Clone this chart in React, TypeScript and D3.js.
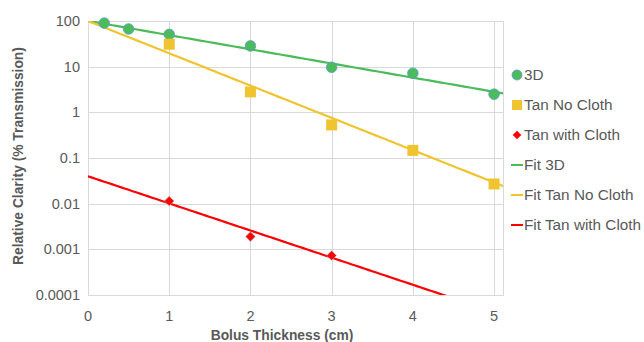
import { useEffect, useRef } from "react";
import * as d3 from "d3";

// measured points
const x3D = [0.2, 0.5, 1, 2, 3, 4, 5];
const y3D = [90, 67, 51, 28.5, 9.7, 7.2, 2.5];
const xNoCloth = [1, 2, 3, 4, 5];
const yNoCloth = [31, 2.8, 0.53, 0.147, 0.027];
const xCloth = [1, 2, 3];
const yCloth = [0.0114, 0.0019, 0.00073];

// exponential trendlines: log10(y) = intercept + slope * x
const fitNames = ["Fit 3D", "Fit Tan No Cloth", "Fit Tan with Cloth"];
const fitIntercepts = [2.0, 2.0, -1.4];
const fitSlopes = [-0.31, -0.707, -0.594];

const xTicks = [0, 1, 2, 3, 4, 5];
const yTicks = [0.0001, 0.001, 0.01, 0.1, 1, 10, 100];
const yTickLabels = ["0.0001", "0.001", "0.01", "0.1", "1", "10", "100"];

const GREEN = "#4cbb5a";
const YELLOW = "#f0c330";
const RED = "#ff0000";
const TEXT = "#595959";
const FONT = "'Liberation Sans', Arial, sans-serif";

export default function App() {
  const svgRef = useRef<SVGSVGElement>(null);

  useEffect(() => {
    if (!svgRef.current) return;
    const width = 644;
    const height = 342;
    const margin = { top: 21, right: 141, bottom: 47, left: 88 };

    const svg = d3.select(svgRef.current);
    svg.selectAll("*").remove();

    const x = d3
      .scaleLinear()
      .domain([0, 5.11])
      .range([margin.left, width - margin.right]);
    const y = d3
      .scaleLog()
      .domain([0.0001, 100])
      .range([height - margin.bottom, margin.top]);

    svg
      .append("defs")
      .append("clipPath")
      .attr("id", "plot-clip")
      .append("rect")
      .attr("x", margin.left)
      .attr("y", margin.top)
      .attr("width", x.range()[1] - margin.left)
      .attr("height", y.range()[0] - margin.top);

    // grid + plot border
    const grid = svg.append("g").attr("stroke", "#d9d9d9").attr("stroke-width", 1);
    grid
      .selectAll("line.h")
      .data(yTicks)
      .join("line")
      .attr("x1", margin.left)
      .attr("x2", x.range()[1])
      .attr("y1", (d) => Math.round(y(d)) + 0.5)
      .attr("y2", (d) => Math.round(y(d)) + 0.5);
    grid
      .selectAll("line.v")
      .data(xTicks)
      .join("line")
      .attr("x1", (d) => Math.round(x(d)) + 0.5)
      .attr("x2", (d) => Math.round(x(d)) + 0.5)
      .attr("y1", margin.top)
      .attr("y2", y.range()[0]);
    grid
      .append("rect")
      .attr("x", margin.left + 0.5)
      .attr("y", Math.round(margin.top) + 0.5)
      .attr("width", Math.round(x.range()[1] - margin.left))
      .attr("height", Math.round(y.range()[0] - margin.top))
      .attr("fill", "none");

    // tick labels
    svg
      .append("g")
      .selectAll("text")
      .data(yTicks)
      .join("text")
      .attr("x", 80)
      .attr("y", (d) => y(d))
      .attr("dy", "0.35em")
      .attr("text-anchor", "end")
      .attr("font-family", FONT)
      .attr("font-size", 14.5)
      .attr("fill", TEXT)
      .text((_, i) => yTickLabels[i]);
    svg
      .append("g")
      .selectAll("text")
      .data(xTicks)
      .join("text")
      .attr("x", (d) => x(d))
      .attr("y", 316)
      .attr("dy", "0.35em")
      .attr("text-anchor", "middle")
      .attr("font-family", FONT)
      .attr("font-size", 14.5)
      .attr("fill", TEXT)
      .text((d) => String(d));

    // axis titles
    svg
      .append("text")
      .attr("x", 282)
      .attr("y", 335)
      .attr("dy", "0.35em")
      .attr("text-anchor", "middle")
      .attr("font-family", FONT)
      .attr("font-weight", "bold")
      .attr("font-size", 13.8)
      .attr("fill", TEXT)
      .text("Bolus Thickness (cm)");
    svg
      .append("text")
      .attr("transform", "translate(18,156) rotate(-90)")
      .attr("dy", "0.35em")
      .attr("text-anchor", "middle")
      .attr("font-family", FONT)
      .attr("font-weight", "bold")
      .attr("font-size", 13.8)
      .attr("fill", TEXT)
      .text("Relative Clarity (% Transmission)");

    // fit lines (clipped to the plot area)
    const fitColors = [GREEN, YELLOW, RED];
    const fits = svg.append("g").attr("clip-path", "url(#plot-clip)");
    const xs = d3.range(0, 5.2, 0.05);
    fitNames.forEach((_, i) => {
      const fitLine = d3
        .line<number>()
        .x((v) => x(v))
        .y((v) => y(Math.pow(10, fitIntercepts[i] + fitSlopes[i] * v)));
      fits
        .append("path")
        .attr("d", fitLine(xs))
        .attr("fill", "none")
        .attr("stroke", fitColors[i])
        .attr("stroke-width", 2.2);
    });

    // markers
    const marks = svg.append("g");
    marks
      .selectAll("circle")
      .data(d3.zip(x3D, y3D))
      .join("circle")
      .attr("cx", (d) => x(d[0]))
      .attr("cy", (d) => y(d[1]))
      .attr("r", 5.3)
      .attr("fill", GREEN)
      .attr("stroke", "#5b9bd5")
      .attr("stroke-width", 0.8);
    marks
      .selectAll("rect.sq")
      .data(d3.zip(xNoCloth, yNoCloth))
      .join("rect")
      .attr("x", (d) => x(d[0]) - 5.5)
      .attr("y", (d) => y(d[1]) - 5.5)
      .attr("width", 11)
      .attr("height", 11)
      .attr("fill", YELLOW);
    const diamondPath = "M0,-4.8L4.8,0L0,4.8L-4.8,0Z";
    marks
      .selectAll("path.dm")
      .data(d3.zip(xCloth, yCloth))
      .join("path")
      .attr("transform", (d) => `translate(${x(d[0])},${y(d[1])})`)
      .attr("d", diamondPath)
      .attr("fill", RED)
      .attr("stroke", "#a8a8a8")
      .attr("stroke-width", 0.6);

    // legend
    const legend = svg
      .append("g")
      .attr("font-family", FONT)
      .attr("font-size", 15.3)
      .attr("fill", TEXT);
    const rowY = (i: number) => 75 + i * 30;
    const lx = 517;
    legend
      .append("circle")
      .attr("cx", lx)
      .attr("cy", rowY(0))
      .attr("r", 5)
      .attr("fill", GREEN)
      .attr("stroke", "#5b9bd5")
      .attr("stroke-width", 0.8);
    legend
      .append("rect")
      .attr("x", lx - 5)
      .attr("y", rowY(1) - 5)
      .attr("width", 10)
      .attr("height", 10)
      .attr("fill", YELLOW);
    legend
      .append("path")
      .attr("transform", `translate(${lx},${rowY(2)})`)
      .attr("d", "M0,-4.3L4.3,0L0,4.3L-4.3,0Z")
      .attr("fill", RED);
    fitNames.forEach((_, i) => {
      legend
        .append("line")
        .attr("x1", 511)
        .attr("x2", 523)
        .attr("y1", rowY(3 + i))
        .attr("y2", rowY(3 + i))
        .attr("stroke", fitColors[i])
        .attr("stroke-width", 2);
    });
    const labels = ["3D", "Tan No Cloth", "Tan with Cloth", ...fitNames];
    legend
      .selectAll("text")
      .data(labels)
      .join("text")
      .attr("x", 524)
      .attr("y", (_, i) => rowY(i))
      .attr("dy", "0.35em")
      .text((d) => d);
  }, []);

  return (
    <div style={{ position: "fixed", left: 0, top: 0, background: "#fff" }}>
      <svg ref={svgRef} width={644} height={342} style={{ display: "block" }} />
    </div>
  );
}
